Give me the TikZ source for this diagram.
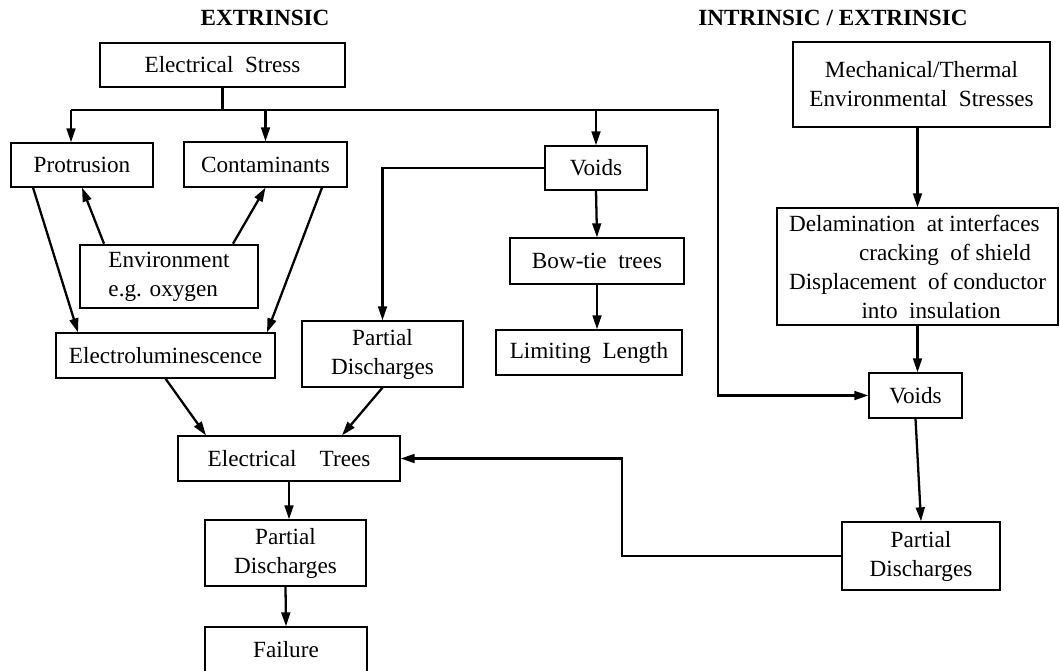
\documentclass[tikz,border=0pt]{standalone}
\usepackage{fontspec}
\setmainfont{Liberation Serif}
\usetikzlibrary{arrows.meta}

\begin{document}
\begin{tikzpicture}[x=0.02cm, y=-0.02cm,
    box/.style={draw, line width=0.7pt, inner sep=2pt, align=center,
                font=\fontsize{13.2}{16.5}\selectfont},
    hbox/.style={box, line width=1.5pt},
    ttl/.style={font=\fontsize{13.2}{16}\selectfont\bfseries},
    arr/.style={line width=1.3pt, -{Triangle[length=8pt, width=5pt]}},
    conn/.style={line width=1.3pt}]
    \useasboundingbox (0,0) rectangle (1060,670);

    % Headings
    \node[ttl] (ttlext) at (265,18) {EXTRINSIC};
    \node[ttl] (ttlint) at (833,18) {INTRINSIC / EXTRINSIC};

    % Extrinsic side
    \node[hbox, minimum width=4.9cm, minimum height=0.88cm] (stress) at (222.5,65) {Electrical\enspace Stress};
    \node[box, minimum width=2.84cm, minimum height=0.88cm] (prot) at (82,165) {Protrusion};
    \node[box, minimum width=3.26cm, minimum height=0.9cm] (cont) at (265.5,164.5) {Contaminants};
    \node[box, minimum width=2.04cm, minimum height=0.88cm] (voidA) at (596,168) {Voids};
    \node[hbox, minimum width=3.56cm, minimum height=1.26cm, align=left] (env) at (169,276.5) {Environment\\e.g. oxygen};
    \node[box, minimum width=4.38cm, minimum height=0.9cm] (elum) at (165.5,355.5) {Electroluminescence};
    \node[box, minimum width=3.22cm, minimum height=1.32cm] (pdA) at (382.5,354) {Partial\\Discharges};
    \node[box, minimum width=3.48cm, minimum height=0.92cm] (bow) at (597,261) {Bow-tie\enspace trees};
    \node[box, minimum width=3.72cm, minimum height=0.9cm] (limit) at (589,352.5) {Limiting\enspace Length};
    \node[box, minimum width=4.44cm, minimum height=0.9cm] (trees) at (289,458.5) {Electrical\quad Trees};
    \node[box, minimum width=3.22cm, minimum height=1.32cm] (pdC) at (285.5,553) {Partial\\Discharges};
    \node[box, minimum width=3.24cm, minimum height=0.92cm] (fail) at (286,650) {Failure};

    % Intrinsic / extrinsic side
    \node[hbox, minimum width=5.14cm, minimum height=1.7cm] (mech) at (921.5,84.5) {Mechanical/Thermal\\Environmental\enspace Stresses};
    \node[box, minimum width=5.62cm, minimum height=2.34cm, align=left] (delam) at (917.5,266.5)
        {Delamination\enspace at interfaces\\\hspace*{1.4cm}cracking\enspace of shield\\Displacement\enspace of conductor\\\hspace*{1.45cm}into\enspace insulation};
    \node[box, minimum width=1.86cm, minimum height=0.9cm] (voidB) at (915.5,395.5) {Voids};
    \node[box, minimum width=3.16cm, minimum height=1.36cm] (pdB) at (921,556) {Partial\\Discharges};

    % Bus under electrical stress
    \coordinate (jL) at (71,110);
    \coordinate (jR) at (718,110);
    \draw[conn] (stress.south) -- (stress.south |- jL);
    \draw[arr] (jL) -- (jR) |- (voidB.west);
    \draw[arr] (jL) -- (jL |- prot.north);
    \draw[arr] (cont.north |- jL) -- (cont.north);
    \draw[arr] (voidA.north |- jL) -- (voidA.north);

    % Protrusion / contaminants / environment
    \draw[arr] ([xshift=-0.98cm]prot.south) -- ([xshift=-1.75cm]elum.north);
    \draw[arr] ([xshift=-1.3cm]env.north) -- (prot.south);
    \draw[arr] ([xshift=1.28cm]env.north) -- (cont.south);
    \draw[arr] ([xshift=1.13cm]cont.south) -- ([xshift=2.03cm]elum.north);

    % Voids branch
    \draw[arr] (voidA.west) -| (pdA.north);
    \draw[arr] (voidA.south) -- (bow.north);
    \draw[arr] (bow.south) -- (bow.south |- limit.north);

    % Towards failure
    \draw[arr] (elum.south) -- ([xshift=-1.66cm]trees.north);
    \draw[arr] (pdA.south) -- ([xshift=1.06cm]trees.north);
    \draw[arr] (trees.south) -- (trees.south |- pdC.north);
    \draw[arr] (pdC.south) -- (fail.north);

    % Right column
    \draw[arr] (delam.north |- mech.south) -- (delam.north);
    \draw[arr] (delam.south) -- (delam.south |- voidB.north);
    \draw[arr] (voidB.south) -- (pdB.north);
    \coordinate (fb) at (622,455);
    \draw[arr] (pdB.west) -| (fb |- trees.east) -- (trees.east);
\end{tikzpicture}
\end{document}
